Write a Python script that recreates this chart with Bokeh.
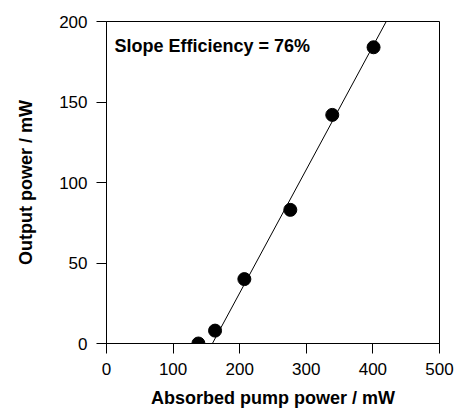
from bokeh.plotting import figure
from bokeh.models import Range1d, Label, FixedTicker
from bokeh.embed import file_html
from bokeh.resources import INLINE

# Data
pump_power = [138, 163, 207, 276, 339, 401]
output_power = [0, 8, 40, 83, 142, 184]
fit_x = [159, 420]
fit_y = [0, 200]
x_ticks = [0, 100, 200, 300, 400, 500]
y_ticks = [0, 50, 100, 150, 200]

FONT = "Liberation Sans"

p = figure(frame_width=333, frame_height=322, width=456, height=418,
           min_border_left=106, min_border_right=17, min_border_top=21, min_border_bottom=75,
           x_range=Range1d(0, 500), y_range=Range1d(0, 200),
           output_backend="svg", toolbar_location=None)
p.grid.visible = False
p.outline_line_color = "black"
p.outline_line_width = 1
p.background_fill_color = "white"
p.border_fill_color = "white"

p.line(fit_x, fit_y, line_color="black", line_width=1)
p.scatter(pump_power, output_power, size=13, fill_color="black", line_color="black")

for ax in (p.xaxis[0], p.yaxis[0]):
    ax.axis_line_color = "black"
    ax.major_tick_line_color = "black"
    ax.minor_tick_line_color = None
    ax.major_tick_in = 0
    ax.major_tick_out = 10
    ax.major_label_standoff = 9
    ax.major_label_text_font = FONT
    ax.major_label_text_font_size = "17px"
    ax.major_label_text_color = "black"
    ax.axis_label_text_font = FONT
    ax.axis_label_text_font_style = "bold"
    ax.axis_label_text_font_size = "18px"
    ax.axis_label_text_color = "black"

p.xaxis.ticker = FixedTicker(ticks=x_ticks)
p.yaxis.ticker = FixedTicker(ticks=y_ticks)
p.xaxis.axis_label = "Absorbed pump power / mW"
p.yaxis.axis_label = "Output power / mW"
p.xaxis.axis_label_standoff = 10
p.yaxis.axis_label_standoff = 20

p.add_layout(Label(x=12, y=185, text="Slope Efficiency = 76%", text_font=FONT,
                   text_font_style="bold", text_font_size="18px", text_baseline="middle",
                   text_color="black"))

open("out.html", "w").write(file_html(p, INLINE))
